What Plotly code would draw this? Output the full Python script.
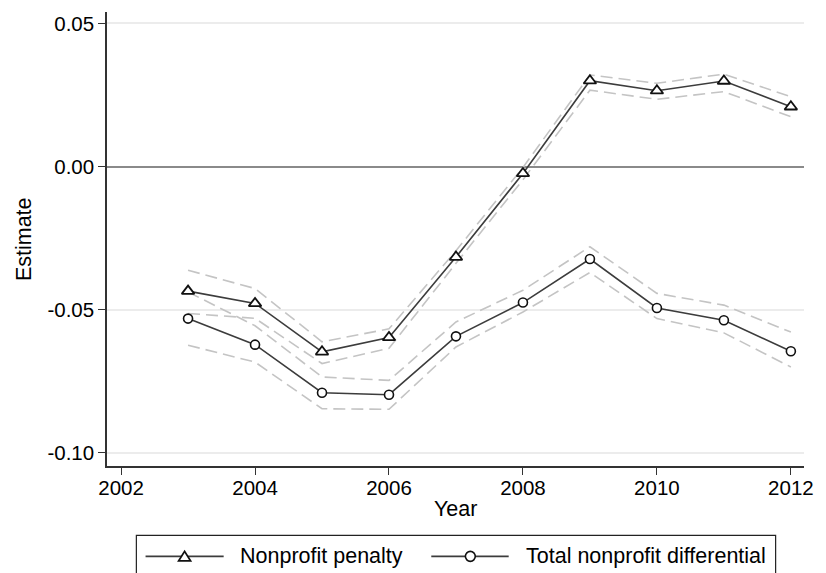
import plotly.graph_objects as go

# ---- data ----
years = [2003, 2004, 2005, 2006, 2007, 2008, 2009, 2010, 2011, 2012]
penalty = [-0.0435, -0.0478, -0.0647, -0.0597, -0.0316, -0.0024, 0.0300, 0.0265, 0.0299, 0.0209]
penalty_lo = [-0.0513, -0.0530, -0.0688, -0.0635, -0.0338, -0.0046, 0.0267, 0.0235, 0.0262, 0.0174]
penalty_hi = [-0.0362, -0.0426, -0.0612, -0.0567, -0.0294, -0.0003, 0.0320, 0.0291, 0.0323, 0.0244]
differential = [-0.0531, -0.0622, -0.0790, -0.0797, -0.0593, -0.0475, -0.0323, -0.0494, -0.0537, -0.0645]
differential_lo = [-0.0624, -0.0683, -0.0846, -0.0848, -0.0630, -0.0508, -0.0370, -0.0531, -0.0581, -0.0700]
differential_hi = [-0.0438, -0.0556, -0.0735, -0.0747, -0.0543, -0.0432, -0.0280, -0.0443, -0.0484, -0.0578]

x_ticks = [2002, 2004, 2006, 2008, 2010, 2012]
y_ticks = [-0.10, -0.05, 0.00, 0.05]
y_ticktext = ["-0.10", "-0.05", "0.00", "0.05"]
legend_labels = ["Nonprofit penalty", "Total nonprofit differential"]
x_title = "Year"
y_title = "Estimate"

# ---- layout geometry ----
W, H = 826, 573
L, R, T, B = 107, 14, 12, 107.3
PW, PH = W - L - R, H - T - B
FONT = "Liberation Sans, Arial, sans-serif"
FS_TICK = 20.5
FS_TEXT = 21.5
LINE_C = "#3c3c3c"
CI_C = "#c4c4c4"


def px(x):
    return (x - L) / PW


def py(y):
    return (H - B - y) / PH


fig = go.Figure()

ci_style = dict(color=CI_C, width=1.6, dash="12px,6px")
for ys in (penalty_hi, penalty_lo, differential_hi, differential_lo):
    fig.add_trace(go.Scatter(x=years, y=ys, mode="lines", line=ci_style,
                             showlegend=False, hoverinfo="skip"))

fig.add_trace(go.Scatter(
    x=years, y=penalty, mode="lines+markers", name=legend_labels[0],
    line=dict(color=LINE_C, width=1.6),
    marker=dict(symbol="triangle-up", size=11, color="white",
                line=dict(color="#111111", width=1.8)),
    showlegend=False))
fig.add_trace(go.Scatter(
    x=years, y=differential, mode="lines+markers", name=legend_labels[1],
    line=dict(color=LINE_C, width=1.6),
    marker=dict(symbol="circle", size=9, color="white",
                line=dict(color="#111111", width=1.6)),
    showlegend=False))

shapes = []
annotations = []

# legend box
shapes.append(dict(type="rect", xref="paper", yref="paper",
                   x0=px(136.7), x1=px(783.3), y0=py(535), y1=py(585),
                   line=dict(color="#222222", width=1.2), fillcolor="white"))
LY = 556
# item 1
shapes.append(dict(type="line", xref="paper", yref="paper",
                   x0=px(146), x1=px(225), y0=py(LY), y1=py(LY),
                   line=dict(color=LINE_C, width=1.6)))
cx = 185.5
shapes.append(dict(type="path", xref="paper", yref="paper",
                   path=f"M {px(cx-6)},{py(LY+4.5)} L {px(cx+6)},{py(LY+4.5)} L {px(cx)},{py(LY-5)} Z",
                   fillcolor="white", line=dict(color="#111111", width=1.8)))
annotations.append(dict(x=px(239), y=py(555.5), xref="paper", yref="paper",
                        text=legend_labels[0], showarrow=False,
                        xanchor="left", yanchor="middle",
                        font=dict(family=FONT, size=FS_TEXT, color="black")))
# item 2
shapes.append(dict(type="line", xref="paper", yref="paper",
                   x0=px(435), x1=px(513.3), y0=py(LY), y1=py(LY),
                   line=dict(color=LINE_C, width=1.6)))
cx2 = 474.5
shapes.append(dict(type="circle", xref="paper", yref="paper",
                   x0=px(cx2-5), x1=px(cx2+5), y0=py(LY+5), y1=py(LY-5),
                   fillcolor="white", line=dict(color="#111111", width=1.6)))
annotations.append(dict(x=px(528.3), y=py(555.5), xref="paper", yref="paper",
                        text=legend_labels[1], showarrow=False,
                        xanchor="left", yanchor="middle",
                        font=dict(family=FONT, size=FS_TEXT, color="black")))

# axis titles
annotations.append(dict(x=px(460), y=py(509), xref="paper", yref="paper",
                        text=x_title, showarrow=False, xanchor="center",
                        yanchor="middle",
                        font=dict(family=FONT, size=FS_TEXT, color="black")))
annotations.append(dict(x=px(22.5), y=py(238.5), xref="paper", yref="paper",
                        text=y_title, showarrow=False, textangle=-90,
                        xanchor="center", yanchor="middle",
                        font=dict(family=FONT, size=FS_TEXT, color="black")))

fig.update_layout(
    width=W, height=H,
    margin=dict(l=L, r=R, t=T, b=B, pad=0),
    paper_bgcolor="white", plot_bgcolor="white",
    font=dict(family=FONT, size=FS_TICK, color="black"),
    shapes=shapes, annotations=annotations,
    showlegend=False,
    xaxis=dict(range=[2001.79, 2012.196], tickmode="array", tickvals=x_ticks,
               ticks="outside", ticklen=7, tickwidth=1.2, tickcolor="#333333",
               ticklabelstandoff=-4,
               showline=True, linecolor="#333333", linewidth=1.5,
               showgrid=False, zeroline=False,
               tickfont=dict(family=FONT, size=FS_TICK, color="black")),
    yaxis=dict(range=[-0.1046, 0.054], tickmode="array", tickvals=y_ticks,
               ticktext=y_ticktext,
               ticks="outside", ticklen=7, tickwidth=1.2, tickcolor="#333333",
               showline=True, linecolor="#333333", linewidth=1.5,
               showgrid=True, gridcolor="#ececec", gridwidth=1.5,
               zeroline=True, zerolinecolor="#8a8a8a", zerolinewidth=1.8,
               tickfont=dict(family=FONT, size=FS_TICK, color="black")),
)

fig.write_html("out.html")
